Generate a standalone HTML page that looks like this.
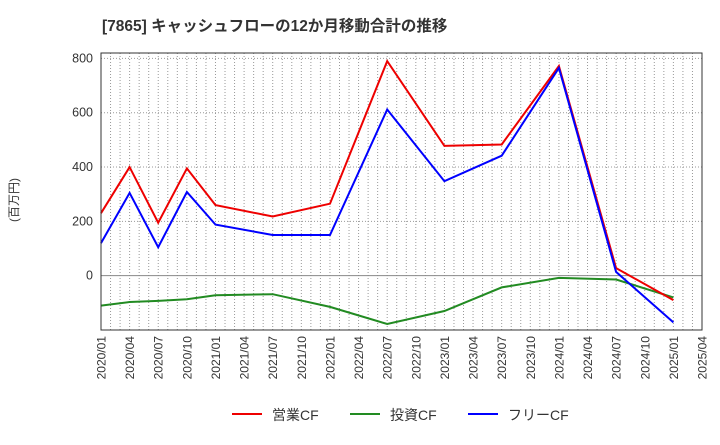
<!DOCTYPE html>
<html><head><meta charset="utf-8"><style>
body{margin:0;background:#fff;}
svg text{font-family:"Liberation Sans","Noto Sans CJK JP",sans-serif;}
</style></head><body>
<svg id="c" width="720" height="440" xmlns="http://www.w3.org/2000/svg">
<text x="102" y="31" font-size="15.5" font-weight="bold" fill="#333">[7865]  キャッシュフローの12か月移動合計の推移</text>
<text transform="translate(18,200) rotate(-90)" font-size="12" fill="#333" text-anchor="middle">(百万円)</text>
<g id="grid"></g><g id="series"></g><g id="axes"></g>
<g>
<line x1="232" y1="414" x2="262" y2="414" stroke="#e00" stroke-width="2"/>
<text x="272" y="420" font-size="14" fill="#333">営業CF</text>
<line x1="350" y1="414" x2="380" y2="414" stroke="#228b22" stroke-width="2"/>
<text x="390" y="420" font-size="14" fill="#333">投資CF</text>
<line x1="468" y1="414" x2="498" y2="414" stroke="#00f" stroke-width="2"/>
<text x="508" y="420" font-size="14" fill="#333">フリーCF</text>
</g>
</svg>
<script>
const categories=["2020/01","2020/04","2020/07","2020/10","2021/01","2021/04","2021/07","2021/10","2022/01","2022/04","2022/07","2022/10","2023/01","2023/04","2023/07","2023/10","2024/01","2024/04","2024/07","2024/10","2025/01","2025/04"];
const yTicks=[0,200,400,600,800];
const operatingCF=[230,400,195,395,260,null,218,null,265,null,790,null,478,null,483,null,772,null,28,null,-90,null];
const investingCF=[-110,-97,-93,-87,-72,null,-68,null,-115,null,-178,null,-130,null,-43,null,-8,null,-14,null,-80,null];
const freeCF=[120,305,105,308,188,null,150,null,150,null,612,null,348,null,442,null,765,null,14,null,-172,null];
const L=101,R=702,T=53,B=330,yMin=-200,yMax=820;
const NS="http://www.w3.org/2000/svg";
function x(i){return L+(R-L)*i/(categories.length-1);}
function y(v){return B-(v-yMin)/(yMax-yMin)*(B-T);}
function mk(tag,attrs,parent){const e=document.createElementNS(NS,tag);for(const k in attrs)e.setAttribute(k,attrs[k]);document.getElementById(parent).appendChild(e);return e;}
const qw=(R-L)/(categories.length-1);
for(let m=1;m<(categories.length-1)*3;m++){const xx=L+qw*m/3;
const g=mk("line",{x1:xx,x2:xx,y1:T,y2:B,stroke:"#999","stroke-dasharray":"1,2"},"grid");

}
yTicks.forEach(v=>{
const g=mk("line",{x1:L,x2:R,y1:y(v),y2:y(v),stroke:v===0?"#888":"#999","stroke-dasharray":v===0?"":"1,2"},"grid");


const t=mk("text",{x:L-8,y:y(v)+4,"font-size":12.5,fill:"#333","text-anchor":"end"},"axes");
t.textContent=v;

});
const f=mk("rect",{x:L,y:T,width:R-L,height:B-T,fill:"none",stroke:"#333"},"axes");


categories.forEach((c,i)=>{
const t=mk("text",{transform:`translate(${x(i)+4.5},${B+6}) rotate(-90)`,"font-size":12,fill:"#333","text-anchor":"end"},"axes");
t.textContent=c;

});
function draw(arr,col,name){
const pts=[];arr.forEach((v,i)=>{if(v!==null)pts.push(x(i).toFixed(1)+","+y(v).toFixed(1));});
const p=mk("polyline",{points:pts.join(" "),fill:"none",stroke:col,"stroke-width":2},"series");

}
draw(investingCF,"#228b22","investing-cf-line");
draw(operatingCF,"#e00","operating-cf-line");
draw(freeCF,"#00f","free-cf-line");
</script>
</body></html>
